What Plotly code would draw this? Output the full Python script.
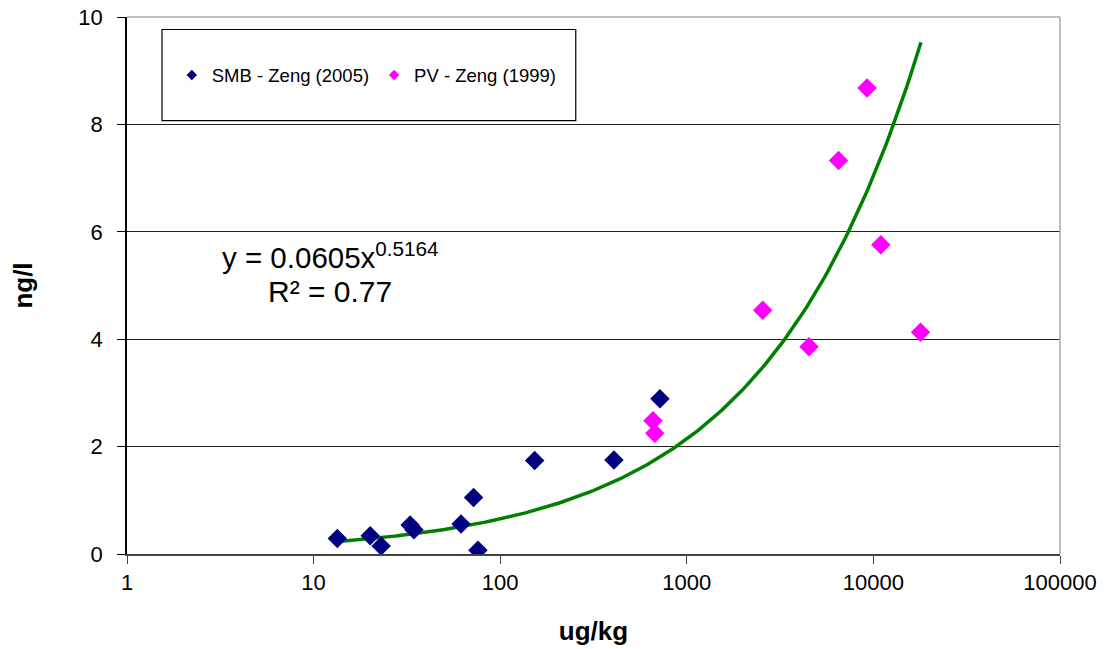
import plotly.graph_objects as go
import numpy as np

# --- data ---
smb_x = [13.4, 20.1, 23.0, 32.9, 34.5, 61.7, 72.0, 76.0, 153, 407, 718]
smb_y = [0.29, 0.34, 0.15, 0.54, 0.45, 0.56, 1.05, 0.07, 1.74, 1.75, 2.89]

pv_x = [659, 674, 2552, 4517, 6508, 9242, 10960, 17880]
pv_y = [2.48, 2.25, 4.54, 3.86, 7.33, 8.68, 5.76, 4.13]

# power trendline shown on the chart: y = a * x^b
trend_a = 0.0605
trend_b = 0.5164
trend_r2 = 0.77
trend_x_range = [13.7, 17990]

x_tickvals = [1, 10, 100, 1000, 10000, 100000]
x_ticktext = ["1", "10", "100", "1000", "10000", "100000"]
y_tickvals = [0, 2, 4, 6, 8, 10]

FONT = "Arial, Liberation Sans, sans-serif"

tx = np.logspace(np.log10(trend_x_range[0]), np.log10(trend_x_range[1]), 200)
ty = trend_a * tx ** trend_b

fig = go.Figure()
fig.add_trace(go.Scatter(x=tx, y=ty, mode="lines", line=dict(color="#008000", width=3.5),
                         showlegend=False, hoverinfo="skip"))
fig.add_trace(go.Scatter(x=smb_x, y=smb_y, mode="markers", name="SMB - Zeng (2005)",
                         legendgroup="smb", showlegend=False,
                         marker=dict(symbol="diamond", size=15, color="#000080")))
fig.add_trace(go.Scatter(x=pv_x, y=pv_y, mode="markers", name="PV - Zeng (1999)",
                         legendgroup="pv", showlegend=False,
                         marker=dict(symbol="diamond", size=15, color="#FF00FF")))
# legend entries (small symbols as in the reference legend)
fig.add_trace(go.Scatter(x=[None], y=[None], mode="markers", name="SMB - Zeng (2005)",
                         legendgroup="smb",
                         marker=dict(symbol="diamond", size=8, color="#000080")))
fig.add_trace(go.Scatter(x=[None], y=[None], mode="markers", name="PV - Zeng (1999)",
                         legendgroup="pv",
                         marker=dict(symbol="diamond", size=8, color="#FF00FF")))

fig.update_layout(
    width=1106, height=649,
    margin=dict(l=127, r=46, t=17, b=95),
    paper_bgcolor="white", plot_bgcolor="white",
    font=dict(family=FONT, color="black", size=22),
    legend=dict(orientation="h", x=0.048, y=0.891, xanchor="left", yanchor="middle",
                bgcolor="rgba(0,0,0,0)", font=dict(size=18.5, family=FONT),
                itemwidth=30),
    xaxis=dict(type="log", range=[0, 5], tickvals=x_tickvals, ticktext=x_ticktext,
               showgrid=False, zeroline=False, showline=True, linecolor="#444",
               linewidth=1.5, ticks="outside", ticklen=8, tickcolor="#444",
               automargin=False, ticklabeloverflow="allow",
               tickfont=dict(size=22, family=FONT),
               title=dict(text="<b>ug/kg</b>", font=dict(size=26, family=FONT), standoff=28)),
    yaxis=dict(range=[0, 10], tickvals=y_tickvals, showgrid=True, gridcolor="#222",
               gridwidth=1, zeroline=False, showline=True, linecolor="black",
               linewidth=1.5, ticks="outside", ticklen=8, tickcolor="black",
               automargin=False, ticklabelstandoff=10, ticklabeloverflow="allow",
               tickfont=dict(size=22, family=FONT),
               title=dict(text="<b>ng/l</b>", font=dict(size=26, family=FONT), standoff=38)),
    shapes=[
        dict(type="line", xref="paper", yref="paper", x0=0, x1=1, y0=1, y1=1,
             line=dict(color="#aaa", width=1.5), layer="above"),
        dict(type="line", xref="paper", yref="paper", x0=1, x1=1, y0=0, y1=1,
             line=dict(color="#aaa", width=1.5), layer="above"),
        dict(type="rect", xref="paper", yref="paper", x0=0.0375, x1=0.481,
             y0=0.807, y1=0.9767, line=dict(color="black", width=1.2),
             fillcolor="white", layer="above"),
    ],
    annotations=[
        dict(xref="paper", yref="paper", x=0.2176, y=0.5560, showarrow=False,
             xanchor="center", yanchor="middle",
             text=f"y = {trend_a}x<sup>{trend_b}</sup>", font=dict(size=29.5, family=FONT)),
        dict(xref="paper", yref="paper", x=0.2176, y=0.4885, showarrow=False,
             xanchor="center", yanchor="middle",
             text=f"R² = {trend_r2}", font=dict(size=30, family=FONT)),
    ],
)

fig.write_html("out.html", config={"displayModeBar": False},
               post_script="document.body.style.margin='0';")
